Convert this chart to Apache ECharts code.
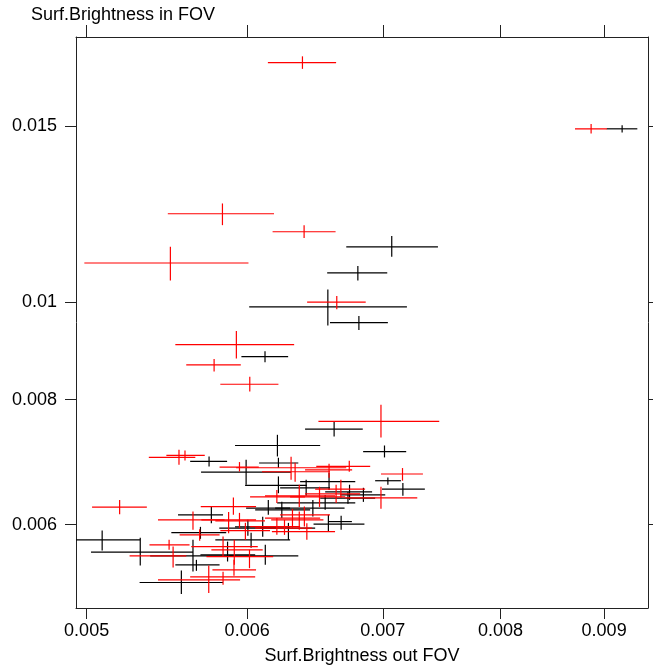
<!DOCTYPE html>
<html>
<head>
<meta charset="utf-8">
<script src="https://cdn.jsdelivr.net/npm/echarts@6/dist/echarts.min.js"></script>
<style>
html,body{margin:0;padding:0;background:#fff;}
#chart{width:653px;height:666px;}
</style>
</head>
<body>
<div id="chart"></div>
<script>
// Each point: [x, y, xLow, xHigh, yLow, yHigh]
const redPoints = [
  [0.006389, 0.01736, 0.006143, 0.006638, 0.01711, 0.01761],
  [0.008868, 0.014907, 0.008707, 0.009029, 0.014749, 0.015069],
  [0.005834, 0.012264, 0.005483, 0.006186, 0.011946, 0.012557],
  [0.006401, 0.011767, 0.006176, 0.006634, 0.011598, 0.011946],
  [0.005499, 0.010951, 0.004987, 0.006009, 0.01052, 0.011365],
  [0.006643, 0.010007, 0.006423, 0.006865, 0.009846, 0.010152],
  [0.005927, 0.009078, 0.00553, 0.006329, 0.00879, 0.009368],
  [0.005779, 0.008663, 0.005599, 0.005957, 0.008533, 0.008783],
  [0.006018, 0.008287, 0.00582, 0.006217, 0.008149, 0.008429],
  [0.006985, 0.007608, 0.006506, 0.007463, 0.007333, 0.007905],
  [0.005553, 0.007004, 0.005366, 0.005657, 0.006887, 0.007127],
  [0.005591, 0.007036, 0.005474, 0.005718, 0.006956, 0.007115],
  [0.005948, 0.006851, 0.005815, 0.00608, 0.006781, 0.00693],
  [0.006738, 0.00686, 0.00649, 0.0069, 0.006777, 0.006951],
  [0.006307, 0.00684, 0.005925, 0.006715, 0.006654, 0.007015],
  [0.006336, 0.006777, 0.006102, 0.006592, 0.006624, 0.006919],
  [0.007158, 0.006742, 0.006985, 0.007326, 0.006639, 0.006835],
  [0.006585, 0.006807, 0.006408, 0.00676, 0.006685, 0.006903],
  [0.006985, 0.006382, 0.006707, 0.007279, 0.006223, 0.006547],
  [0.005191, 0.006247, 0.005031, 0.005354, 0.006148, 0.006353],
  [0.005907, 0.006256, 0.005692, 0.006061, 0.006138, 0.006387],
  [0.005642, 0.006068, 0.005422, 0.005848, 0.00593, 0.006185],
  [0.005875, 0.006068, 0.005696, 0.006061, 0.005885, 0.00618],
  [0.005948, 0.006054, 0.005787, 0.006123, 0.005953, 0.006166],
  [0.005988, 0.00592, 0.00582, 0.006158, 0.005795, 0.006026],
  [0.005685, 0.005862, 0.005557, 0.005815, 0.005782, 0.005939],
  [0.005491, 0.005729, 0.00537, 0.00562, 0.005664, 0.005795],
  [0.005838, 0.005707, 0.005631, 0.006073, 0.005577, 0.00584],
  [0.005913, 0.005664, 0.005761, 0.006107, 0.005472, 0.005795],
  [0.006016, 0.005577, 0.005729, 0.00618, 0.00543, 0.005664],
  [0.005516, 0.005586, 0.00525, 0.005599, 0.005438, 0.005707],
  [0.005911, 0.005409, 0.005768, 0.006061, 0.005336, 0.005535],
  [0.005744, 0.005287, 0.005422, 0.005952, 0.005128, 0.005463],
  [0.005838, 0.005323, 0.005624, 0.006055, 0.005227, 0.005385],
  [0.006421, 0.005906, 0.006171, 0.00663, 0.005795, 0.006022],
  [0.006366, 0.006068, 0.006166, 0.006543, 0.00593, 0.006185],
  [0.006403, 0.006138, 0.006229, 0.006592, 0.005975, 0.006256],
  [0.006317, 0.006091, 0.006123, 0.006519, 0.005957, 0.006223],
  [0.00626, 0.005953, 0.006055, 0.00646, 0.005862, 0.006068],
  [0.006206, 0.005975, 0.00602, 0.006372, 0.005862, 0.006095],
  [0.006366, 0.006412, 0.006123, 0.00663, 0.006251, 0.006578],
  [0.006514, 0.006397, 0.0063, 0.006707, 0.006251, 0.006547],
  [0.006638, 0.006441, 0.006408, 0.006822, 0.006309, 0.006578],
  [0.006674, 0.006512, 0.006482, 0.00686, 0.006382, 0.006654],
  [0.006206, 0.006397, 0.00602, 0.006408, 0.006309, 0.006499]
];
const blackPoints = [
  [0.009186, 0.014907, 0.009026, 0.009346, 0.014783, 0.015034],
  [0.007071, 0.011365, 0.006715, 0.007452, 0.011111, 0.011652],
  [0.006804, 0.010705, 0.006571, 0.007035, 0.01052, 0.010875],
  [0.006576, 0.009899, 0.006014, 0.007194, 0.009483, 0.010305],
  [0.006812, 0.009549, 0.006592, 0.00704, 0.00939, 0.009695],
  [0.006123, 0.008831, 0.005961, 0.006286, 0.008715, 0.008942],
  [0.006623, 0.007474, 0.006408, 0.006842, 0.00735, 0.007608],
  [0.00621, 0.007199, 0.005918, 0.006519, 0.00702, 0.007378],
  [0.007013, 0.007099, 0.006845, 0.007188, 0.007004, 0.007199],
  [0.005746, 0.00694, 0.005624, 0.005865, 0.00686, 0.00702],
  [0.006217, 0.006915, 0.006082, 0.006359, 0.00684, 0.006999],
  [0.005993, 0.006772, 0.005694, 0.006307, 0.006578, 0.006967],
  [0.006217, 0.006567, 0.005986, 0.006421, 0.006451, 0.006705],
  [0.00704, 0.006639, 0.006939, 0.007145, 0.006578, 0.00669],
  [0.007161, 0.006512, 0.006993, 0.007342, 0.006412, 0.006604],
  [0.006416, 0.006532, 0.006229, 0.006592, 0.006412, 0.006654],
  [0.006585, 0.006624, 0.006372, 0.006784, 0.006499, 0.006761],
  [0.00674, 0.00647, 0.006556, 0.006915, 0.006353, 0.006578],
  [0.006847, 0.006426, 0.006669, 0.007019, 0.006324, 0.006532],
  [0.005089, 0.005795, 0.00493, 0.005314, 0.005655, 0.00592],
  [0.005314, 0.005634, 0.005025, 0.005642, 0.005463, 0.005822],
  [0.005568, 0.005254, 0.00531, 0.005838, 0.005116, 0.005401],
  [0.005642, 0.005586, 0.005374, 0.005918, 0.005388, 0.005795],
  [0.005664, 0.005472, 0.00553, 0.005815, 0.005397, 0.005535],
  [0.005761, 0.006138, 0.005547, 0.005838, 0.006022, 0.006256],
  [0.005868, 0.005599, 0.00569, 0.006055, 0.005514, 0.005772],
  [0.006125, 0.005586, 0.005877, 0.006359, 0.005472, 0.005729],
  [0.006005, 0.005953, 0.005813, 0.006201, 0.005849, 0.006068],
  [0.006146, 0.006233, 0.005993, 0.0063, 0.006138, 0.006353],
  [0.006676, 0.006044, 0.006578, 0.006758, 0.00593, 0.006124],
  [0.00658, 0.006008, 0.00647, 0.006855, 0.005916, 0.006138],
  [0.006465, 0.006233, 0.006194, 0.006702, 0.006114, 0.006353],
  [0.006556, 0.006309, 0.006208, 0.006784, 0.006209, 0.006426],
  [0.006288, 0.005953, 0.006089, 0.006482, 0.005795, 0.006026],
  [0.006241, 0.006209, 0.006055, 0.006445, 0.006095, 0.006324],
  [0.006107, 0.005971, 0.005918, 0.0063, 0.005836, 0.00611],
  [0.006728, 0.006378, 0.006519, 0.006939, 0.006295, 0.00647],
  [0.006027, 0.005795, 0.005787, 0.0063, 0.00569, 0.005889],
  [0.00569, 0.005893, 0.005505, 0.005859, 0.005809, 0.005971]
];
const xTicks = [0.005, 0.006, 0.007, 0.008, 0.009];
const yTicks = [0.006, 0.008, 0.01, 0.015];
const xRange = [0.00494, 0.00946];
const yRange = [0.004955, 0.01841];
const xTitle = 'Surf.Brightness out FOV';
const yTitle = 'Surf.Brightness in FOV';

const L = Math.log10;
const xMin = L(xRange[0]), xMax = L(xRange[1]);
const yMin = L(yRange[0]), yMax = L(yRange[1]);
const FONT = '"Liberation Sans", Arial, Helvetica, sans-serif';
const fmt = v => String(+Math.pow(10, v).toPrecision(2));

function makeRender(color) {
  return function (params, api) {
    const x = api.value(0), y = api.value(1);
    const xl = Math.max(api.value(2), xMin), xh = Math.min(api.value(3), xMax);
    const yl = Math.max(api.value(4), yMin), yh = Math.min(api.value(5), yMax);
    const pL = api.coord([xl, y]), pR = api.coord([xh, y]);
    const pB = api.coord([x, yl]), pT = api.coord([x, yh]);
    const style = { stroke: color, lineWidth: 1.2 };
    return {
      type: 'group',
      children: [
        { type: 'line', shape: { x1: pL[0], y1: pL[1], x2: pR[0], y2: pR[1] }, style: style },
        { type: 'line', shape: { x1: pB[0], y1: pB[1], x2: pT[0], y2: pT[1] }, style: style }
      ]
    };
  };
}
const toLog = arr => arr.map(p => p.map(L));

const axisLine = { show: true, lineStyle: { color: '#222', width: 1 } };
const tickStyle = { color: '#222', width: 1 };

const chart = echarts.init(document.getElementById('chart'), null, { renderer: 'canvas' });
chart.setOption({
  animation: false,
  backgroundColor: '#fff',
  title: {
    text: yTitle, left: 31, top: 6, padding: 0,
    textStyle: { fontFamily: FONT, fontSize: 18, fontWeight: 'normal', color: '#000' }
  },
  grid: { left: 76, right: 5, top: 37, bottom: 58, containLabel: false, outerBoundsMode: 'none' },
  xAxis: [
    {
      type: 'value', position: 'bottom', min: xMin, max: xMax,
      axisLine: axisLine, splitLine: { show: false },
      axisTick: { show: true, inside: false, length: 11, lineStyle: tickStyle, customValues: xTicks.map(L) },
      axisLabel: { show: true, margin: 14, formatter: fmt, customValues: xTicks.map(L),
        fontFamily: FONT, fontSize: 18, color: '#000' },
      name: xTitle, nameLocation: 'middle', nameGap: 39,
      nameTextStyle: { fontFamily: FONT, fontSize: 18, color: '#000' }
    },
    {
      type: 'value', position: 'top', min: xMin, max: xMax,
      axisLine: axisLine, splitLine: { show: false },
      axisTick: { show: true, inside: false, length: 12, lineStyle: tickStyle, customValues: xTicks.map(L) },
      axisLabel: { show: false }
    }
  ],
  yAxis: [
    {
      type: 'value', position: 'left', min: yMin, max: yMax,
      axisLine: axisLine, splitLine: { show: false },
      axisTick: { show: true, inside: false, length: 11, lineStyle: tickStyle, customValues: yTicks.map(L) },
      axisLabel: { show: true, margin: 19, formatter: fmt, customValues: yTicks.map(L),
        fontFamily: FONT, fontSize: 18, color: '#000' }
    },
    {
      type: 'value', position: 'right', min: yMin, max: yMax,
      axisLine: axisLine, splitLine: { show: false },
      axisTick: { show: true, inside: false, length: 11, lineStyle: tickStyle, customValues: yTicks.map(L) },
      axisLabel: { show: false }
    }
  ],
  series: [
    {
      type: 'custom', name: 'black', xAxisIndex: 0, yAxisIndex: 0,
      renderItem: makeRender('#000000'), data: toLog(blackPoints),
      encode: { x: 0, y: 1 }, silent: true
    },
    {
      type: 'custom', name: 'red', xAxisIndex: 0, yAxisIndex: 0,
      renderItem: makeRender('#ff0000'), data: toLog(redPoints),
      encode: { x: 0, y: 1 }, silent: true
    }
  ]
});
</script>
</body>
</html>
